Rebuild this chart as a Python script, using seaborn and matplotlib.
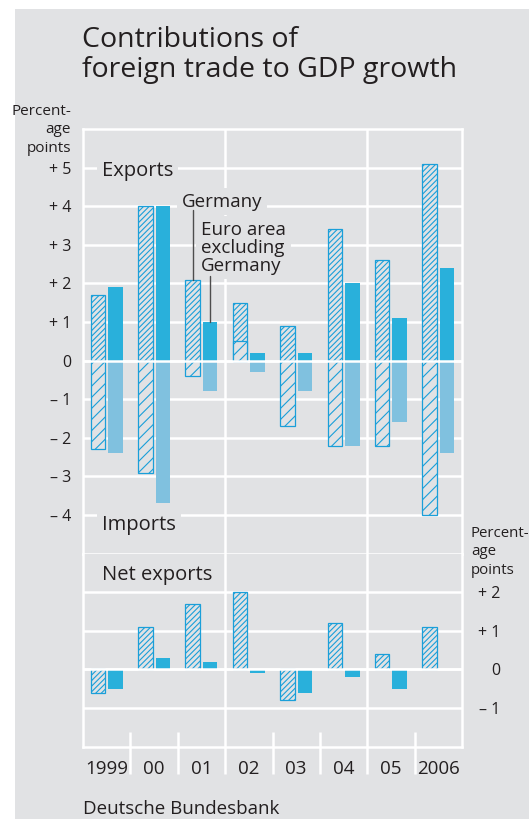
import numpy as np
import pandas as pd
import seaborn as sns
import matplotlib.pyplot as plt
from matplotlib.patches import Rectangle

# values (percentage points)
years = ['1999', '00', '01', '02', '03', '04', '05', '2006']
regions = ['Germany', 'Euro area\nexcluding\nGermany']

exports_de = [1.7, 4.0, 2.1, 1.5, 0.9, 3.4, 2.6, 5.1]
exports_ea = [1.9, 4.0, 1.0, 0.2, 0.2, 2.0, 1.1, 2.4]
imports_de = [-2.3, -2.9, -0.4, 0.5, -1.7, -2.2, -2.2, -4.0]
imports_ea = [-2.4, -3.7, -0.8, -0.3, -0.8, -2.2, -1.6, -2.4]
net_de = [-0.6, 1.1, 1.7, 2.0, -0.8, 1.2, 0.4, 1.1]
net_ea = [-0.5, 0.3, 0.2, -0.1, -0.6, -0.2, -0.5, 0.0]

left_ticks = [5, 4, 3, 2, 1, 0, -1, -2, -3, -4]
left_labels = ['+ 5', '+ 4', '+ 3', '+ 2', '+ 1', '0', '– 1', '– 2', '– 3', '– 4']
right_ticks = [2, 1, 0, -1]
right_labels = ['+ 2', '+ 1', '0', '– 1']

BG = '#e1e2e4'
BLUE = '#29b0db'
LIGHT = '#80c1df'
EDGE = '#1a9fd9'
INK = '#231f20'

sns.set_style('white')
plt.rcParams['font.family'] = ['Open Sans', 'DejaVu Sans']
plt.rcParams['text.color'] = INK
plt.rcParams['xtick.color'] = INK
plt.rcParams['ytick.color'] = INK
plt.rcParams['hatch.color'] = EDGE
plt.rcParams['hatch.linewidth'] = 0.8

W, H = 529, 819
fig = plt.figure(figsize=(W / 100, H / 100), dpi=100, facecolor='white')
fig.patches.append(Rectangle((15 / W, 0), 1, 1 - 9 / H, transform=fig.transFigure,
                             facecolor=BG, edgecolor='none', zorder=-1))

# one continuous panel split in two axes (exports/imports above, net exports below)
unit = 38.6
x0, x1, y0 = 83, 462, 129
top_units, bot_units = 11, 5
ax = fig.add_axes([x0 / W, 1 - (y0 + top_units * unit) / H, (x1 - x0) / W, top_units * unit / H])
ax2 = fig.add_axes([x0 / W, 1 - (y0 + (top_units + bot_units) * unit) / H, (x1 - x0) / W, bot_units * unit / H])


def draw_bars(axis, de, ea, hatch, color):
    df = pd.DataFrame({'year': years * 2,
                       'region': [regions[0]] * len(years) + [regions[1]] * len(years),
                       'value': de + ea})
    n = len(axis.containers)
    sns.barplot(data=df, x='year', y='value', hue='region', hue_order=regions,
                palette=[BG, color], saturation=1, width=0.74, gap=0.17,
                errorbar=None, legend=False, linewidth=0, ax=axis)
    for bar in axis.containers[n]:
        bar.set_hatch(hatch)
        bar.set_edgecolor(EDGE)
        bar.set_linewidth(0.9)


draw_bars(ax, exports_de, exports_ea, '//////', BLUE)
draw_bars(ax, imports_de, imports_ea, '///', LIGHT)
draw_bars(ax2, net_de, net_ea, '//////', BLUE)

major = [2.5, 5.5]
for a in (ax, ax2):
    a.set_facecolor(BG)
    a.set_xlim(-0.5, len(years) - 0.5)
    a.set_xlabel('')
    a.set_ylabel('')
    a.set_axisbelow(True)
    a.grid(axis='y', color='white', linewidth=1.8)
    a.grid(axis='x', visible=False)
    a.axhline(0, color='white', linewidth=1.8, zorder=3)
    for xv in major:
        a.axvline(xv, color='white', linewidth=1.8, zorder=0.6)
    for s in a.spines.values():
        s.set_color('white')
        s.set_linewidth(1.8)

ax.set_ylim(-5, 6)
ax.set_yticks(left_ticks, left_labels)
ax.tick_params(axis='y', length=0, pad=8.6, labelsize=11.5)
ax.tick_params(axis='x', length=0, labelbottom=False)

ax2.set_ylim(-2, 3)
ax2.spines['top'].set_visible(False)
ax2.yaxis.tick_right()
ax2.set_yticks(right_ticks, right_labels)
ax2.tick_params(axis='y', length=0, pad=27.4, labelsize=11.5)
for t in ax2.get_yticklabels():
    t.set_ha('right')
ax2.set_xticks(range(len(years)), years)
ax2.tick_params(axis='x', length=0, pad=9.5, labelsize=13.5)

# year separators below the panel
seps = [i + 0.5 for i in range(len(years) - 1)]
ax2.vlines([s for s in seps if s not in major], -2.71, -1.62, colors='white',
           linewidth=1.8, clip_on=False, zorder=3)
ax2.vlines(major, -2.71, -2, colors='white', linewidth=1.8, clip_on=False, zorder=3)

box = dict(boxstyle='square,pad=0.25', fc=BG, ec='none')
ax.text(-0.105, 4.78, 'Exports', ha='left', va='baseline', fontsize=14.5, zorder=3, bbox=box)
ax.text(-0.105, -4.39, 'Imports', ha='left', va='baseline', fontsize=14.5, zorder=3, bbox=box)
ax2.text(-0.105, 2.32, 'Net exports', ha='left', va='baseline', fontsize=14.5, zorder=3, bbox=box)
ax.text(1.582, 3.99, regions[0], ha='left', va='baseline', fontsize=13.5, zorder=3, bbox=box)
ax.text(1.99, 2.93, regions[1], ha='left', va='center', linespacing=1.0, fontsize=13.5,
        zorder=3, bbox=box)

i = years.index('01')
ax.plot([i - 0.185] * 2, [3.91, exports_de[i]], color='#4d4d4d', lw=1.0, zorder=4)
ax.plot([i + 0.185] * 2, [2.19, exports_ea[i]], color='#4d4d4d', lw=1.0, zorder=4)

fig.text(82 / W, 1 - 26 / H, 'Contributions of\nforeign trade to GDP growth',
         fontsize=20.5, ha='left', va='top', linespacing=1.1)
fig.text(71 / W, 1 - 129.9 / H, 'Percent-\nage\npoints', fontsize=11, ha='right',
         va='center', linespacing=1.3, multialignment='right')
fig.text(471 / W, 1 - 551.7 / H, 'Percent-\nage\npoints', fontsize=10.8, ha='left',
         va='center', linespacing=1.3)
fig.text(82.6 / W, 1 - 813.7 / H, 'Deutsche Bundesbank', fontsize=13.5, ha='left', va='baseline')

fig.savefig('out.png', dpi=100, facecolor='white')
